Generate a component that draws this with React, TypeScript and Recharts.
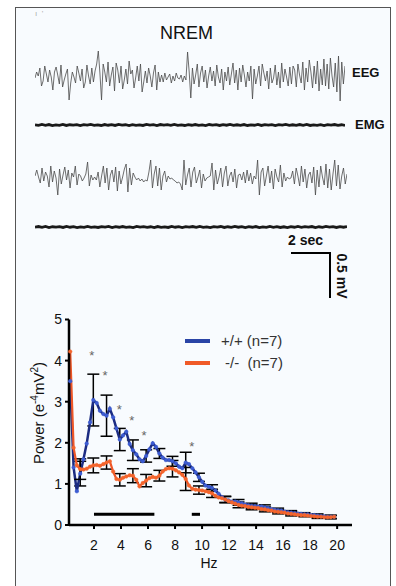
import React from 'react';
import { ComposedChart, LineChart, Line, XAxis, YAxis, ErrorBar, Scatter, ReferenceLine } from 'recharts';

const FONT = '"Liberation Sans", Arial, Helvetica, sans-serif';

// PSD frequency bins (Hz)
const hz = [
  0.24, 0.49, 0.73, 0.98, 1.22, 1.46, 1.71, 1.95, 2.2, 2.44, 2.69, 2.93, 3.17, 3.42, 3.66, 3.91,
  4.15, 4.39, 4.64, 4.88, 5.13, 5.37, 5.61, 5.86, 6.1, 6.35, 6.59, 6.84, 7.08, 7.32, 7.57, 7.81,
  8.06, 8.3, 8.54, 8.79, 9.03, 9.28, 9.52, 9.77, 10.01, 10.25, 10.5, 10.74, 10.99, 11.23, 11.47,
  11.72, 11.96, 12.21, 12.45, 12.7, 12.94, 13.18, 13.43, 13.67, 13.92, 14.16, 14.4, 14.65, 14.89,
  15.14, 15.38, 15.63, 15.87, 16.11, 16.36, 16.6, 16.85, 17.09, 17.33, 17.58, 17.82, 18.07, 18.31,
  18.55, 18.8, 19.04, 19.29, 19.53, 19.78,
];

// +/+ mean power
const wtPower = [
  3.5, 1.4, 0.82, 1.25, 1.6, 1.98, 2.5, 3.04, 2.97, 2.78, 2.7, 2.66, 2.83, 2.62, 2.35, 2.08,
  2.18, 2.27, 1.97, 1.82, 1.72, 1.6, 1.55, 1.68, 1.84, 1.99, 1.9, 1.74, 1.64, 1.58, 1.58, 1.55,
  1.5, 1.42, 1.38, 1.52, 1.48, 1.38, 1.28, 1.16, 1.05, 0.96, 0.93, 0.9, 0.84, 0.76, 0.68,
  0.62, 0.6, 0.57, 0.57, 0.55, 0.53, 0.5, 0.48, 0.47, 0.46, 0.45, 0.45, 0.43, 0.41,
  0.39, 0.37, 0.36, 0.35, 0.33, 0.31, 0.3, 0.29, 0.28, 0.27, 0.26, 0.26, 0.24, 0.24,
  0.23, 0.22, 0.21, 0.2, 0.2, 0.2,
];

// -/- mean power
const koPower = [
  4.22, 1.88, 1.45, 1.36, 1.35, 1.37, 1.42, 1.45, 1.46, 1.44, 1.48, 1.52, 1.55, 1.3, 1.12, 1.1,
  1.15, 1.18, 1.21, 1.2, 1.1, 0.94, 1.02, 1.08, 1.14, 1.17, 1.15, 1.2, 1.3, 1.36, 1.38, 1.37,
  1.33, 1.28, 1.22, 1.12, 0.96, 0.88, 0.86, 0.85, 0.84, 0.82, 0.8, 0.77, 0.71, 0.67, 0.65,
  0.62, 0.58, 0.55, 0.52, 0.49, 0.47, 0.46, 0.44, 0.43, 0.42, 0.41, 0.39, 0.38, 0.36,
  0.35, 0.33, 0.32, 0.31, 0.3, 0.28, 0.27, 0.26, 0.25, 0.24, 0.24, 0.23, 0.22, 0.21,
  0.2, 0.2, 0.19, 0.19, 0.19, 0.2,
];

// SEM shown at every 4th bin
const semBins = [4, 8, 12, 16, 20, 24, 28, 32, 36, 40, 44, 48, 52, 56, 60, 64, 68, 72, 76, 80];
const wtSem = [0.3, 0.63, 0.5, 0.27, 0.25, 0.15, 0.12, 0.12, 0.25, 0.1, 0.08, 0.07, 0.07, 0.06, 0.06, 0.05, 0.05, 0.04, 0.04, 0.04];
const koSem = [0.25, 0.18, 0.16, 0.15, 0.17, 0.15, 0.13, 0.2, 0.28, 0.1, 0.1, 0.08, 0.07, 0.06, 0.06, 0.05, 0.05, 0.04, 0.04, 0.04];

// significance markers
const starHz = [1.83, 2.81, 3.87, 4.79, 5.7, 9.24];
const starPower = [4.19, 3.71, 2.88, 2.61, 2.25, 1.99];
const sigBars = [[2.0, 6.47], [9.24, 9.85]];
const sigLevel = 0.26;

const yTicks = [0, 1, 2, 3, 4, 5];
const xTicks = [2, 4, 6, 8, 10, 12, 14, 16, 18, 20];

// raw traces (px offsets)
const eeg1 = [
  0, 6, 2, 10, -8, -3, 12, 4, -4, 8, 1, -12, 6, 11, 3, -6, 13, -9, -2, 4, 9, -22, -5, 6, 1, -5, 12,
  5, -3, 9, -10, -4, 13, 2, -6, 10, -4, 7, 14, 27, 5, -22, 14, 6, -4, 16, -8, 3, 11, -13, 15, 8,
  -5, 12, -11, -2, 9, -6, 17, 4, 8, -10, 0, 12, -3, 14, -14, -4, 7, -5, 10, 2, -9, 5, 13, -12, 6,
  -4, 3, -4, 5, -2, 1, 4, -5, 2, -3, 5, 0, -1, 3, -4, 2, -2, 26, 6, -20, 10, -6, 3, 14, -9, 5, 12,
  -4, 8, -10, 2, 11, -3, 7, -8, 13, 1, -5, 9, -12, 6, -3, 11, -7, 4, 15, -5, 8, -12, 10, -4, 13, 3,
  -9, 6, -3, 12, -21, 9, -6, 2, 12, -8, 14, 5, -3, 7, -11, 10, -5, 0, 13, -7, 6, -10, 15, -4, 9, 1,
  -8, 11, -6, 12, 8, -9, 14, 3, -5, 16, -12, 10, -4, 18, 6, -10, 12, -6, 17, -13, 9, -7, 19, -8, 14,
  -11, 20, 2, -9, 15, -14, 22, -23, 16, -6, 12,
];
const eeg2 = [
  2, 8, 1, -5, 10, -3, 6, 2, -9, 12, -4, 7, 0, -17, 9, -6, 3, 11, -2, 8, -10, 5, 1, 12, -7, 4,
  2, -3, 0, 4, 16, -8, 3, -2, 1, -2,
  6, -9, 2, 12, -5, 10, -12, 3, 8, -4, 11, -13, 7, -6, 1, 9, 14, -14, 10, -7, 5,
  1, -2, 0, -3, -1, -4, -2, -3,
  6, 18, -10, 4, 12, -8, 10, -12, 2, 7, -4,
  2, -1, 0, -2, -3, -5, -4, -6,
  -12, 18, -7, 3, 10, -9, 6, 11, -5, 1, 8, -10, 4, -3,
  0, 1, 2, 15, -12,
  8, -6, 1, 10, -9, 5, 12, -8, 2, 6, -4, 9, -10, 3,
  4, -2, 6, -5, 8, -3, 5, -6, 2, -1,
  18, -17, 6, 10, -8, 2, 12, -5, 7, -11, 9, 1, -4, 13, -9, 5, -3,
  1, -1, 0,
  7, -6, 10, 2, -8, 12, -4, 9, -10, 3, 6, -5, 11, -17,
  8, -9, 12, 1, -7, 14, -10, 9, -12, 4, 18, -8, 13, -11, 2, 10, -6, 4,
];
const emg1 = [
  0.4, -0.8, 1, -0.5, 0.9, -1.1, 0.3, -0.6, 1.2, -0.9, 0.5, -0.3, 0.8, -1.2, 0.6, -0.4, 1, -0.7,
  0.2, -1, 0.9, -0.5, 0.7, -0.9, 1.1, -0.3, 0.5, -1.1, 0.8, -0.6, 0.4, -0.9, 1, -0.4, 0.6, -1,
  0.9, -0.2, 0.7, -0.8, 1.2, -0.6, 0.3, -1, 0.8, -0.5, 0.9, -0.7, 0.4, -1.1, 1, -0.3, 0.6, -0.9,
  0.8, -0.4, 1.1, -0.8, 0.5, -0.6, 0.9, -1, 0.3, -0.5, 1, -0.9, 0.6, -0.3, 0.8, -1.1, 0.7, -0.4,
  1, -0.8, 0.5, -0.7, 0.9, -0.5, 1.2, -0.9, 0.4, -0.6, 0.8, -1, 0.6, -0.3, 0.9, -0.8, 0.5, -1,
];
const emg2 = [
  -0.3, 0.9, -0.7, 1, -1.1, 0.5, -0.4, 0.8, -0.9, 1.2, -0.5, 0.6, -1, 0.4, -0.8, 1.1, -0.6, 0.3,
  -0.9, 0.8, -0.4, 1, -1.2, 0.6, -0.5, 0.9, -0.7, 0.4, -1, 1.1, -0.3, 0.7, -0.8, 0.5, -1.1, 0.9,
  -0.6, 0.3, -0.9, 1, -0.5, 0.8, -1.1, 0.6, -0.4, 0.9, -0.8, 1.2, -0.6, 0.4, -1, 0.7, -0.3, 1,
  -0.9, 0.5, -0.7, 1.1, -0.4, 0.8, -1, 0.6, -0.5, 0.9, -1.2, 0.3, -0.8, 1, -0.6, 0.7, -0.9, 0.4,
  -1.1, 0.8, -0.5, 1, -0.7, 0.6, -0.4, 0.9, -1, 0.5, -0.8, 1.1, -0.3, 0.7, -0.9, 0.6, -0.5, 0.8,
];

const semAt = (sem: number[], i: number) => {
  const j = semBins.indexOf(i + 1);
  return j >= 0 ? sem[j] : undefined;
};

const psdData = hz.map((f, i) => ({
  hz: f,
  wt: wtPower[i],
  ko: koPower[i],
  wtErr: semAt(wtSem, i),
  koErr: semAt(koSem, i),
}));

const starData = starHz.map((f, i) => ({ hz: f, star: starPower[i] }));

const Star = (p: any) => (
  <text x={p.cx} y={p.cy + 7.4} textAnchor="middle" fontSize={13} fill="#666" fontFamily={FONT}>*</text>
);

interface TraceProps {
  values: number[];
  left: number;
  top: number;
  width: number;
  height: number;
  range: number;
  color: string;
  weight: number;
}

const Trace: React.FC<TraceProps> = ({ values, left, top, width, height, range, color, weight }) => {
  const data = values.map((v, i) => ({ i, v }));
  return (
    <div style={{ position: 'absolute', left, top }}>
      <LineChart width={width} height={height} data={data} margin={{ top: 0, right: 0, bottom: 0, left: 0 }}>
        <XAxis dataKey="i" type="number" domain={[0, values.length - 1]} hide />
        <YAxis type="number" domain={[-range, range]} hide />
        <Line type="linear" dataKey="v" stroke={color} strokeWidth={weight} dot={false} isAnimationActive={false} />
      </LineChart>
    </div>
  );
};

const label: React.CSSProperties = { position: 'absolute', fontFamily: FONT, color: '#111', whiteSpace: 'pre' };

export default function App() {
  return (
    <div style={{ position: 'absolute', left: 0, top: 0, width: 396, height: 586, overflow: 'hidden', background: '#fff' }}>
      {/* frame */}
      <div style={{ position: 'absolute', left: 15, top: 7, width: 374, height: 620, border: '1.5px solid #555', background: '#f8fbfe' }} />
      <div style={{ ...label, left: 35, top: 9, fontSize: 8, color: '#aaa' }}>{'ı  \''}</div>

      <div style={{ ...label, left: 140, top: 22, width: 93, textAlign: 'center', fontSize: 18, lineHeight: '22px' }}>NREM</div>

      <Trace values={eeg1} left={35} top={50} width={310} height={56} range={28} color="#4a4a4a" weight={0.8} />
      <Trace values={emg1} left={35} top={121} width={310} height={8} range={8} color="#1a1a1a" weight={2.8} />
      <Trace values={eeg2} left={35} top={156} width={312} height={44} range={22} color="#4a4a4a" weight={0.8} />
      <Trace values={emg2} left={35} top={223} width={312} height={8} range={8} color="#1a1a1a" weight={2.8} />

      <div style={{ ...label, left: 352, top: 65, fontSize: 13, fontWeight: 'bold', lineHeight: '15px' }}>EEG</div>
      <div style={{ ...label, left: 355, top: 117, fontSize: 13, fontWeight: 'bold', lineHeight: '15px' }}>EMG</div>

      {/* scale bar */}
      <div style={{ ...label, left: 288, top: 232, fontSize: 14, fontWeight: 'bold', lineHeight: '16px' }}>2 sec</div>
      <div style={{ position: 'absolute', left: 291, top: 252, width: 40, height: 2, background: '#000' }} />
      <div style={{ position: 'absolute', left: 329, top: 252, width: 2, height: 46, background: '#000' }} />
      <div style={{ ...label, left: 312, top: 268, width: 60, textAlign: 'center', fontSize: 14, fontWeight: 'bold', lineHeight: '16px', transform: 'rotate(90deg)' }}>0.5 mV</div>

      {/* power spectrum */}
      <div style={{ position: 'absolute', left: 0, top: 300 }}>
        <ComposedChart width={396} height={286} data={psdData} margin={{ top: 19.5, right: 44, bottom: 31, left: 0 }}>
          <XAxis
            dataKey="hz"
            type="number"
            domain={[0.15, 21.1]}
            ticks={xTicks}
            interval={0}
            height={30}
            axisLine={{ stroke: '#000', strokeWidth: 2.5 }}
            tickLine={{ stroke: '#000', strokeWidth: 2 }}
            tickSize={4}
            tickMargin={11}
            tick={{ fill: '#111', fontSize: 14, fontFamily: FONT }}
          />
          <YAxis
            type="number"
            domain={[0, 5]}
            ticks={yTicks}
            interval={0}
            width={69}
            axisLine={{ stroke: '#000', strokeWidth: 2.5 }}
            tickLine={{ stroke: '#000', strokeWidth: 2 }}
            tickSize={4}
            tickMargin={3}
            tick={{ fill: '#111', fontSize: 14, fontFamily: FONT }}
          />
          {sigBars.map(([a, b], i) => (
            <ReferenceLine key={i} segment={[{ x: a, y: sigLevel }, { x: b, y: sigLevel }]} stroke="#000" strokeWidth={3} ifOverflow="visible" />
          ))}
          <Line
            type="linear"
            dataKey="wt"
            stroke="#1c2c82"
            strokeWidth={2.5}
            dot={{ r: 1.8, fill: '#3d5cd2', stroke: '#3d5cd2', strokeWidth: 0.5 }}
            isAnimationActive={false}
          >
            <ErrorBar dataKey="wtErr" direction="y" width={6} stroke="#000" strokeWidth={1.5} />
          </Line>
          <Line
            type="linear"
            dataKey="ko"
            stroke="#ee5627"
            strokeWidth={2.2}
            dot={{ r: 1.8, fill: '#f4652c', stroke: '#f4652c', strokeWidth: 0.5 }}
            isAnimationActive={false}
          >
            <ErrorBar dataKey="koErr" direction="y" width={6} stroke="#000" strokeWidth={1.5} />
          </Line>
          <Scatter data={starData} dataKey="star" shape={Star} isAnimationActive={false} />
        </ComposedChart>
      </div>

      <div style={{ ...label, left: -28, top: 402, width: 130, textAlign: 'center', fontSize: 15, lineHeight: '18px', transform: 'rotate(-90deg)' }}>
        Power (e<sup style={{ fontSize: 10 }}>-4</sup>mV<sup style={{ fontSize: 10 }}>2</sup>)
      </div>
      <div style={{ ...label, left: 189, top: 555, width: 40, textAlign: 'center', fontSize: 14, lineHeight: '16px' }}>Hz</div>

      {/* legend */}
      <div style={{ position: 'absolute', left: 185, top: 339, width: 25, height: 3.5, background: '#2a44a6' }} />
      <div style={{ ...label, left: 221, top: 332, fontSize: 15, lineHeight: '18px', color: '#333' }}>+/+ (n=7)</div>
      <div style={{ position: 'absolute', left: 185, top: 361, width: 25, height: 3.5, background: '#f05a28' }} />
      <div style={{ ...label, left: 225, top: 354, fontSize: 15, lineHeight: '18px', color: '#333' }}>{'-/-  (n=7)'}</div>
    </div>
  );
}
